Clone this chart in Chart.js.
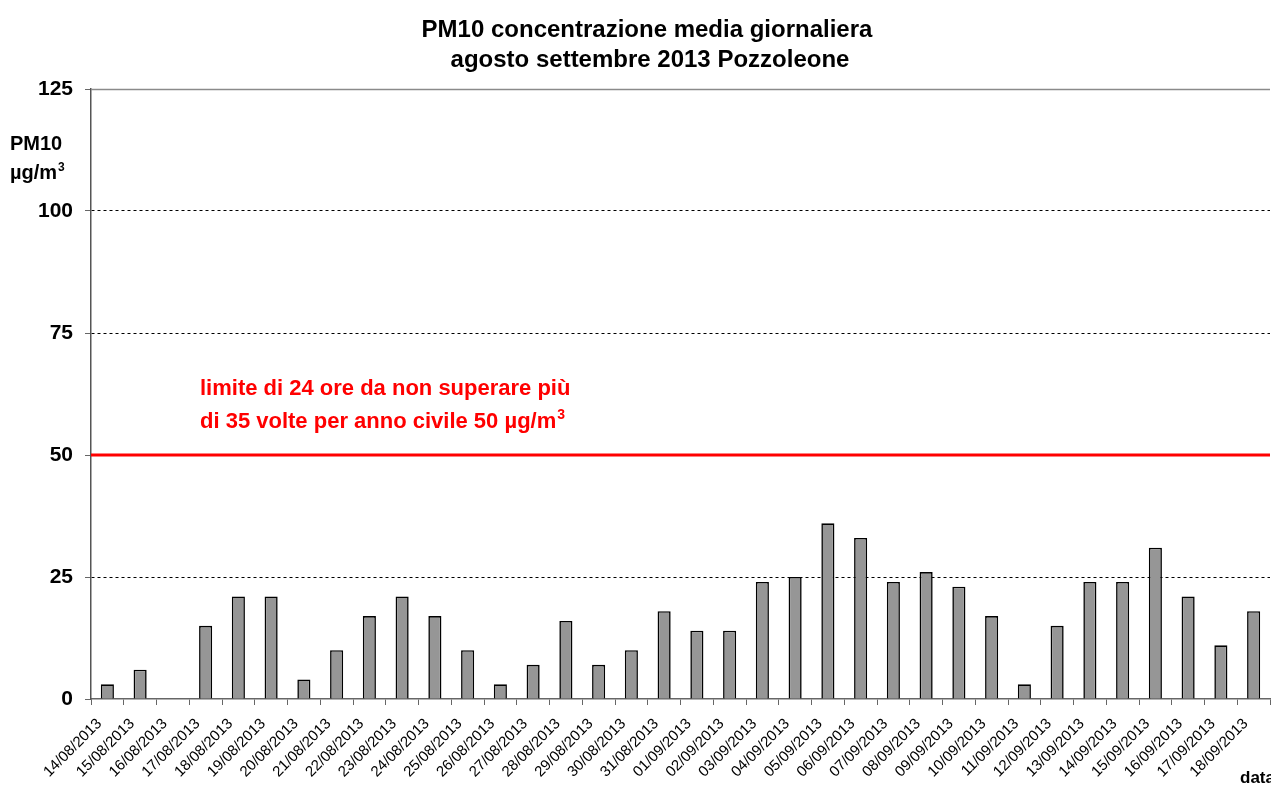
<!DOCTYPE html>
<html>
<head>
<meta charset="utf-8">
<script src="https://cdn.jsdelivr.net/npm/chart.js@4/dist/chart.umd.min.js"></script>
<style>
  html, body { margin: 0; padding: 0; background: #fff; }
  canvas { display: block; }
</style>
</head>
<body>
<canvas id="pm10Chart" width="1271" height="785"></canvas>
<script>
// Dates (categories)
const dates = [
  '14/08/2013', '15/08/2013', '16/08/2013', '17/08/2013', '18/08/2013', '19/08/2013',
  '20/08/2013', '21/08/2013', '22/08/2013', '23/08/2013', '24/08/2013', '25/08/2013',
  '26/08/2013', '27/08/2013', '28/08/2013', '29/08/2013', '30/08/2013', '31/08/2013',
  '01/09/2013', '02/09/2013', '03/09/2013', '04/09/2013', '05/09/2013', '06/09/2013',
  '07/09/2013', '08/09/2013', '09/09/2013', '10/09/2013', '11/09/2013', '12/09/2013',
  '13/09/2013', '14/09/2013', '15/09/2013', '16/09/2013', '17/09/2013', '18/09/2013'
];

// Daily mean PM10 (µg/m3), null = no data
const pm10 = [
  3, 6, null, 15, 21, 21,
  4, 10, 17, 21, 17, 10,
  3, 7, 16, 7, 10, 18,
  14, 14, 24, 25, 36, 33,
  24, 26, 23, 17, 3, 15,
  24, 24, 31, 21, 11, 18
];

// 24h limit value
const limitValue = 50;

const yTicks = [0, 25, 50, 75, 100, 125];

const titleLines = ['PM10 concentrazione media giornaliera', 'agosto settembre 2013 Pozzoleone'];
const limitText = ['limite di 24 ore da non superare più', 'di 35 volte per anno civile 50 µg/m'];

const FONT = '"Liberation Sans", Arial, sans-serif';

// Draw text with a superscript "3" after it
function textWithSup(ctx, text, x, y, size) {
  ctx.fillText(text, x, y);
  const w = ctx.measureText(text).width;
  const saved = ctx.font;
  ctx.font = 'bold ' + Math.round(size * 0.62) + 'px ' + FONT;
  ctx.textAlign = 'left';
  ctx.fillText('3', x + w + 1, y - size * 0.42);
  ctx.font = saved;
}

// Titles, limit line, annotations
const decorations = {
  id: 'decorations',
  beforeDatasetsDraw(chart) {
    const { ctx, chartArea, scales: { y } } = chart;
    ctx.save();
    // top border of plot area
    ctx.strokeStyle = '#8a8a8a';
    ctx.lineWidth = 1.5;
    ctx.beginPath();
    ctx.moveTo(chartArea.left, chartArea.top + 0.5);
    ctx.lineTo(chartArea.right, chartArea.top + 0.5);
    ctx.stroke();
    // limit line
    const ly = y.getPixelForValue(limitValue);
    ctx.strokeStyle = '#ff0000';
    ctx.lineWidth = 3;
    ctx.beginPath();
    ctx.moveTo(chartArea.left, ly);
    ctx.lineTo(chartArea.right, ly);
    ctx.stroke();
    ctx.restore();
  },
  afterDraw(chart) {
    const { ctx } = chart;
    ctx.save();
    ctx.fillStyle = '#000';
    ctx.textBaseline = 'alphabetic';
    ctx.textAlign = 'center';
    ctx.font = 'bold 24px ' + FONT;
    ctx.fillText(titleLines[0], 647, 37);
    ctx.fillText(titleLines[1], 650, 67);

    // y axis title
    ctx.textAlign = 'left';
    ctx.font = 'bold 20px ' + FONT;
    ctx.fillText('PM10', 10, 150);
    textWithSup(ctx, 'µg/m', 10, 179, 20);

    // limit annotation
    ctx.fillStyle = '#ff0000';
    ctx.font = 'bold 22px ' + FONT;
    ctx.fillText(limitText[0], 200, 395);
    textWithSup(ctx, limitText[1], 200, 428, 22);

    // x axis title, cut at the right edge
    ctx.fillStyle = '#000';
    ctx.font = 'bold 17px ' + FONT;
    ctx.fillText('data', 1240, 783);
    ctx.restore();
  }
};

new Chart(document.getElementById('pm10Chart'), {
  type: 'bar',
  data: {
    labels: dates,
    datasets: [{
      label: 'PM10',
      data: pm10,
      backgroundColor: '#969696',
      borderColor: '#000',
      borderWidth: 1.6,
      barPercentage: 0.4,
      categoryPercentage: 1.0
    }]
  },
  options: {
    responsive: false,
    animation: false,
    layout: { padding: { top: 89, right: 1, left: 0, bottom: 0 } },
    plugins: {
      legend: { display: false },
      tooltip: { enabled: false },
      title: { display: false }
    },
    scales: {
      x: {
        offset: true,
        grid: {
          offset: true,
          drawOnChartArea: false,
          drawTicks: true,
          tickLength: 6,
          tickColor: '#666'
        },
        border: { color: '#666', width: 1.5 },
        ticks: {
          autoSkip: false,
          minRotation: 45,
          maxRotation: 45,
          color: '#000',
          padding: 10,
          labelOffset: -8,
          font: { family: FONT, size: 15 }
        },
        afterFit(scale) {
          scale.height = 86;
          scale.paddingRight = 0;
          scale.paddingLeft = 0;
        }
      },
      y: {
        min: 0,
        max: 125,
        afterBuildTicks(scale) { scale.ticks = yTicks.map(v => ({ value: v })); },
        grid: {
          color: ctx => (ctx.tick && (ctx.tick.value === 0 || ctx.tick.value === 125)) ? 'rgba(0,0,0,0)' : '#000',
          lineWidth: 1,
          tickLength: 6,
          tickColor: '#666',
          tickBorderDash: []
        },
        border: { color: '#555', width: 1.5, dash: [3, 3] },
        ticks: {
          color: '#000',
          padding: 12,
          font: { family: FONT, size: 21, weight: 'bold' }
        },
        afterFit(scale) { scale.width = 91; }
      }
    }
  },
  plugins: [decorations]
});
</script>
</body>
</html>
